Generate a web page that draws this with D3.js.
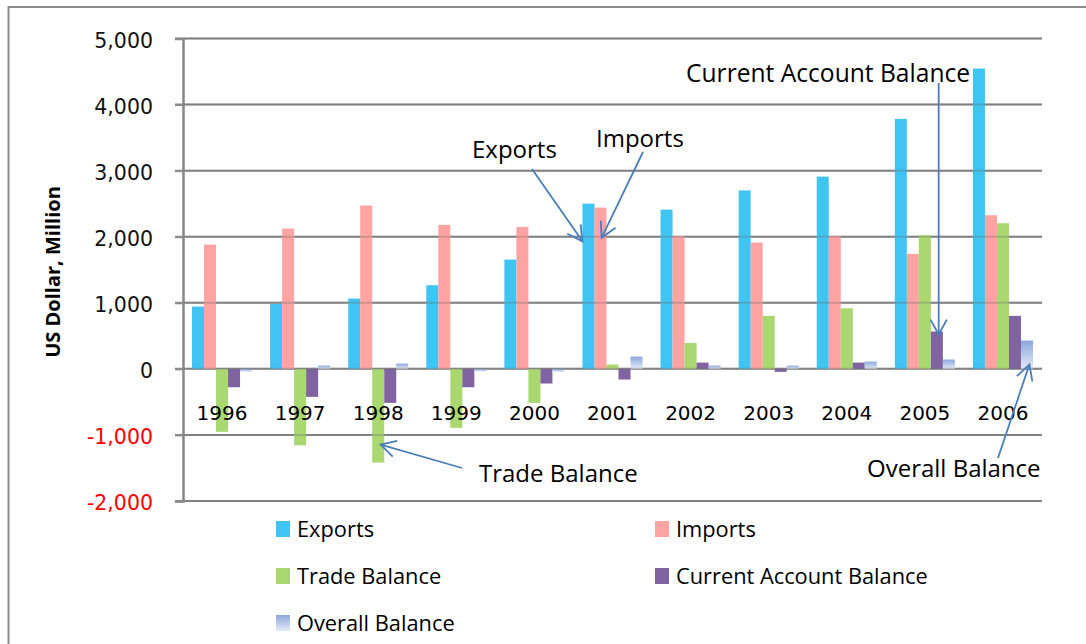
<!DOCTYPE html>
<html lang="en">
<head>
<meta charset="UTF-8">
<script src="https://d3js.org/d3.v7.min.js"></script>
<style>
body{
	margin: 0;
	background-color: white;
}
.tick text{
	font-family: "DejaVu Sans", sans-serif;
	font-size: 20.5px;
}
</style>
</head>
<body>
<svg width="1086" height="644"></svg>
<script>
// chart data (US$ million)
const years = ["1996","1997","1998","1999","2000","2001","2002","2003","2004","2005","2006"]
const seriesNames = ["Exports","Imports","Trade Balance","Current Account Balance","Overall Balance"]
const exportsVals = [943, 984, 1064, 1266, 1654, 2500, 2410, 2700, 2910, 3784, 4545]
const importsVals = [1881, 2123, 2472, 2179, 2149, 2440, 2008, 1911, 2008, 1740, 2325]
const tradeVals = [-953, -1156, -1418, -893, -515, 65, 393, 802, 917, 2022, 2204]
const currentVals = [-278, -424, -515, -278, -222, -162, 95, -45, 95, 565, 802]
const overallVals = [-45, 50, 80, -40, -45, 186, 50, 50, 110, 141, 428]
const yTicks = [-2000, -1000, 0, 1000, 2000, 3000, 4000, 5000]

const colors = ["#40c4f2", "#ffa3a3", "#a9d770", "#8064a2", "url(#overallGrad)"]

const svg = d3.select("svg")

// outer frame
svg.append("rect")
	.attr("x", 8.5).attr("y", 7).attr("width", 1100).attr("height", 700)
	.style("fill", "white").style("stroke", "#8c8c8c").style("stroke-width", 2)

let grad = svg.append("defs").append("linearGradient")
	.attr("id", "overallGrad").attr("x1", 0).attr("y1", 0).attr("x2", 0).attr("y2", 1)
grad.append("stop").attr("offset", "0%").attr("stop-color", "#8ba8dc")
grad.append("stop").attr("offset", "100%").attr("stop-color", "#e3eaf7")

const y = d3.scaleLinear().domain([-2000, 5000]).range([501, 38.5])
const x0 = d3.scaleBand().domain(years).range([183, 1042])
const x1 = d3.scaleBand().domain(seriesNames).range([0, x0.bandwidth()]).paddingOuter(0.75)

const table = years.map(function(yr, i){
	return {year: yr, values: [exportsVals[i], importsVals[i], tradeVals[i], currentVals[i], overallVals[i]]}
})

const fmt = d3.formatLocale({decimal: ".", thousands: ",", grouping: [3], currency: ["$", ""], minus: "-"}).format(",")

// gridlines under bars
const gridG = svg.append("g")
gridG.selectAll("line")
	.data(yTicks)
	.join("line")
	.attr("x1", 175).attr("x2", 1042)
	.attr("y1", d => y(d)).attr("y2", d => y(d))
	.style("stroke", "#8c8c8c").style("stroke-width", 2)

// bars
const groups = svg.append("g").selectAll("g")
	.data(table)
	.join("g")
	.attr("transform", d => "translate(" + x0(d.year) + ",0)")

groups.selectAll("rect")
	.data(d => d.values.map(function(v, k){ return {name: seriesNames[k], value: v, k: k} }))
	.join("rect")
	.attr("x", d => x1(d.name))
	.attr("width", x1.bandwidth())
	.attr("y", d => y(Math.max(0, d.value)))
	.attr("height", d => Math.abs(y(d.value) - y(0)))
	.style("fill", d => colors[d.k])

// faint gridlines showing through the bars
svg.append("g").selectAll("line")
	.data(yTicks)
	.join("line")
	.attr("x1", 183).attr("x2", 1042)
	.attr("y1", d => y(d)).attr("y2", d => y(d))
	.style("stroke", "#6a6a6a").style("stroke-width", 2).style("opacity", 0.3)

// y axis
const yAxis = svg.append("g")
	.attr("transform", "translate(183,0)")
	.call(d3.axisLeft(y).tickValues(yTicks).tickSize(8).tickPadding(22).tickFormat(fmt))
yAxis.select(".domain").style("stroke", "#868686").style("stroke-width", 2.5)
yAxis.selectAll(".tick line").style("stroke", "#8c8c8c").style("stroke-width", 2)
yAxis.selectAll(".tick text")
	.attr("dy", "0.42em")
	.style("fill", d => d < 0 ? "#ff0000" : "#111")

// year labels below zero line
svg.append("g").selectAll("text")
	.data(years)
	.join("text")
	.attr("x", d => x0(d) + x0.bandwidth() / 2)
	.attr("y", 420)
	.attr("text-anchor", "middle")
	.style("font-family", "DejaVu Sans, sans-serif")
	.style("font-size", "20px")
	.style("fill", "#000")
	.text(d => d)

// y title
svg.append("text")
	.attr("transform", "translate(60,272) rotate(-90)")
	.attr("text-anchor", "middle")
	.style("font-family", "Open Sans, sans-serif")
	.style("font-weight", "bold")
	.style("font-size", "20px")
	.text("US Dollar,  Million")

// legend
const legendCols = [276, 655]
const legendRows = [529, 576, 623]
const legend = svg.append("g").selectAll("g")
	.data(seriesNames)
	.join("g")
	.attr("transform", (d, i) => "translate(" + legendCols[i % 2] + "," + legendRows[Math.floor(i / 2)] + ")")
legend.append("rect")
	.attr("x", 0).attr("y", -8).attr("width", 14).attr("height", 16)
	.style("fill", (d, i) => colors[i])
legend.append("text")
	.attr("x", 21).attr("y", 8)
	.style("font-family", "Open Sans, sans-serif")
	.style("font-size", "21.8px")
	.text(d => d)

// callouts: text position, arrow start, arrow tip on a bar (year, series, value)
const callouts = [
	{label: "Exports", tx: 472, ty: 158, sx: 532, sy: 169, year: "2001", series: 0, at: 0.0, value: 1930},
	{label: "Imports", tx: 596, ty: 147, sx: 643, sy: 152, year: "2001", series: 1, at: 0.6, value: 1985},
	{label: "Current Account Balance", tx: 686, ty: 82, sx: null, sy: 83, year: "2005", series: 3, at: 0.65, value: 520},
	{label: "Trade Balance", tx: 479, ty: 482, sx: 462, sy: 468, year: "1998", series: 2, at: 0.7, value: -1146},
	{label: "Overall Balance", tx: 867, ty: 477, sx: 998, sy: 458, year: "2006", series: 4, at: 0.7, value: 65}
]

const arrowG = svg.append("g")
callouts.forEach(function(c){
	let tipX = x0(c.year) + x1(seriesNames[c.series]) + c.at * x1.bandwidth()
	let tipY = y(c.value)
	let sx = c.sx === null ? tipX : c.sx

	arrowG.append("text")
		.attr("x", c.tx).attr("y", c.ty)
		.style("font-family", "Open Sans, sans-serif")
		.style("font-size", c.label.length > 20 ? "24.6px" : "24px")
		.text(c.label)

	arrowG.append("line")
		.attr("x1", sx).attr("y1", c.sy).attr("x2", tipX).attr("y2", tipY)
		.style("stroke", "#4a7ebb").style("stroke-width", 1.8)

	let ang = Math.atan2(c.sy - tipY, sx - tipX)
	let len = 17
	let spread = 0.5
	let head = "M" + (tipX + len * Math.cos(ang - spread)) + "," + (tipY + len * Math.sin(ang - spread)) +
		"L" + tipX + "," + tipY +
		"L" + (tipX + len * Math.cos(ang + spread)) + "," + (tipY + len * Math.sin(ang + spread))
	arrowG.append("path")
		.attr("d", head)
		.style("fill", "none").style("stroke", "#4a7ebb").style("stroke-width", 1.8)
})
</script>
</body>
</html>
